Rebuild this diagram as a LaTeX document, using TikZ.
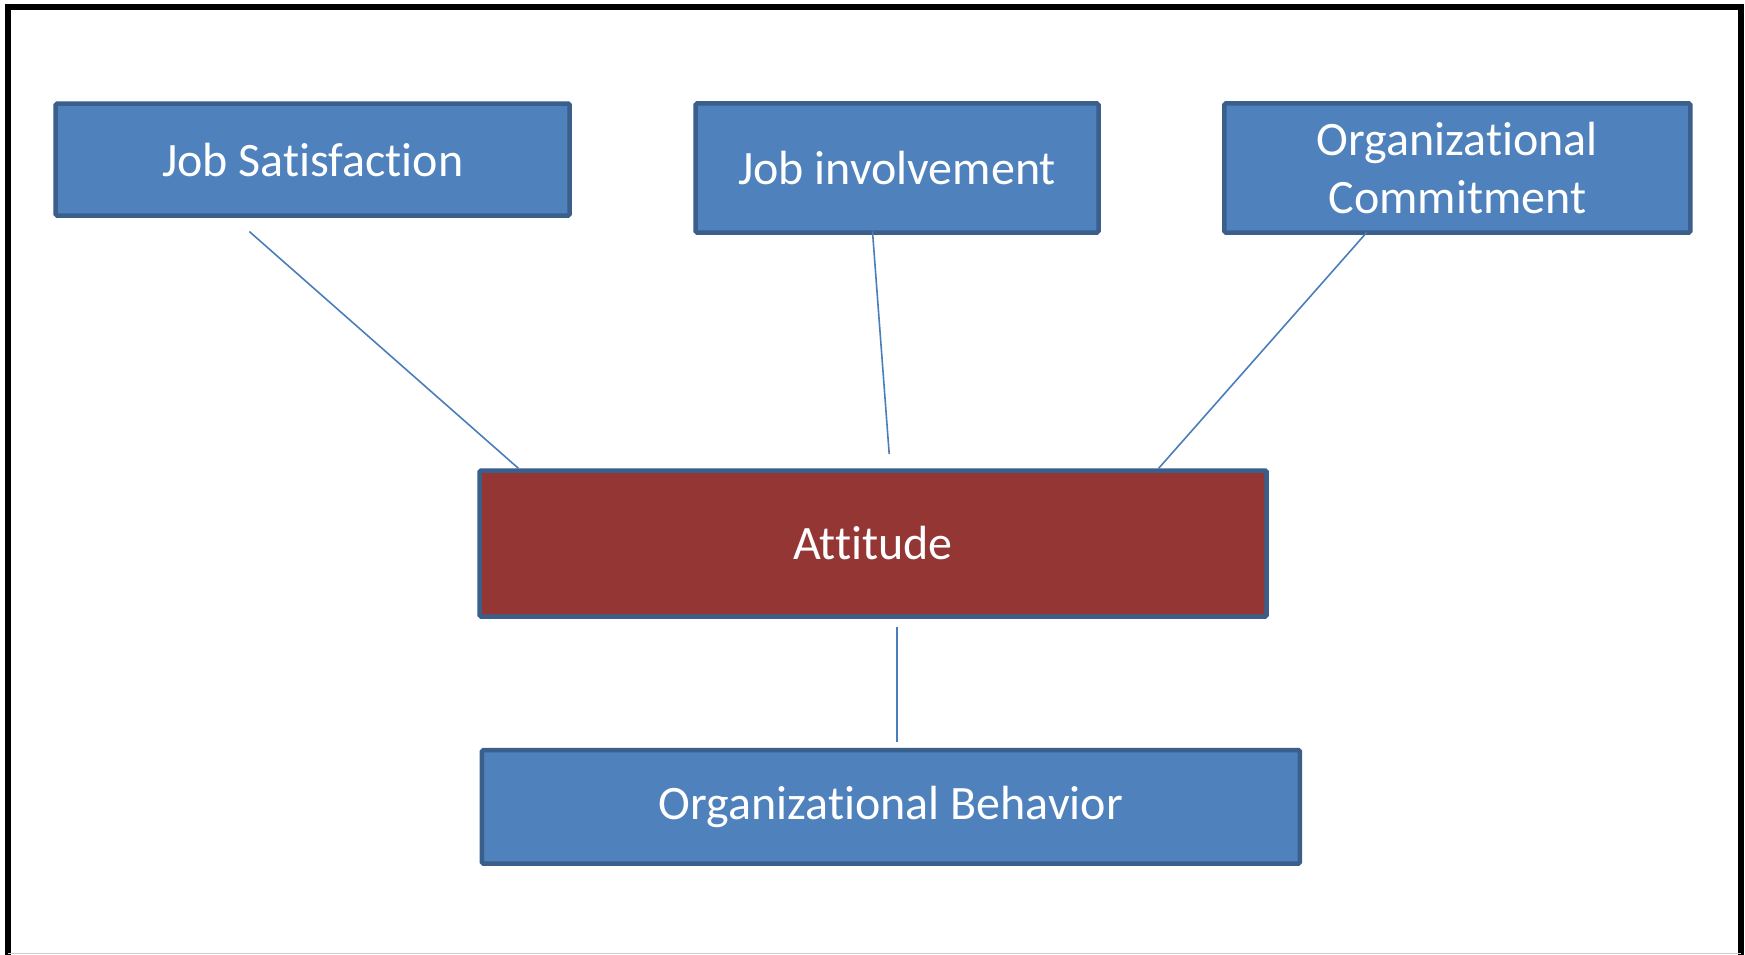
\documentclass[tikz,border=0pt]{standalone}
\usepackage{fontspec}
\setmainfont[RawFeature={-liga,-clig}]{Carlito}
\definecolor{boxblue}{HTML}{4F81BD}
\definecolor{boxedge}{HTML}{3A5F8B}
\definecolor{attred}{HTML}{943634}
\definecolor{linkblue}{HTML}{4A7EBB}
\begin{document}
\begin{tikzpicture}[x=1pt,y=-1pt,
  box/.style={draw=boxedge,line width=4.5pt,fill=boxblue,text=white,rounded corners=1.5pt,
    inner sep=0pt,align=center,font=\fontsize{48}{58}\selectfont},
  link/.style={draw=linkblue,line width=1.6pt}]
\useasboundingbox (0,0) rectangle (1745,955);
\fill[white] (0,0) rectangle (1745,955);
% frame
\draw[black,line width=6pt] (8,958) -- (8,7) -- (1741,7) -- (1741,958);
\draw[black!20,line width=1.5pt] (8,953.5) -- (1741,953.5);
% nodes
\node[box,minimum width=514pt,minimum height=112pt] (js) at (312.7,159.6) {Job Satisfaction};
\node[box,minimum width=403pt,minimum height=129pt] (ji) at (897,168) {Job involvement};
\node[box,minimum width=466pt,minimum height=129pt] (oc) at (1457.4,168) {Organizational\\Commitment};
\node[box,fill=attred,minimum width=787pt,minimum height=146pt] (att) at (873.1,543.5) {Attitude};
\node[box,minimum width=818pt,minimum height=113.5pt] (ob) at (890.9,806.8) {Organizational Behavior};
% connector end points
\coordinate (jsA) at (249.3,231.5);
\coordinate (jsB) at (518.6,468.5);
\coordinate (jiA) at (872.5,231.5);
\coordinate (jiB) at (889.2,454);
\coordinate (ocA) at (1366.6,232.6);
\coordinate (ocB) at (1158.5,468.5);
\coordinate (attA) at (897,626.6);
\coordinate (obA) at (897,742.3);
\draw[link] (jsA) -- (jsB);
\draw[link] (jiA) -- (jiB);
\draw[link] (ocA) -- (ocB);
\draw[link] (attA) -- (obA);
\end{tikzpicture}
\end{document}
